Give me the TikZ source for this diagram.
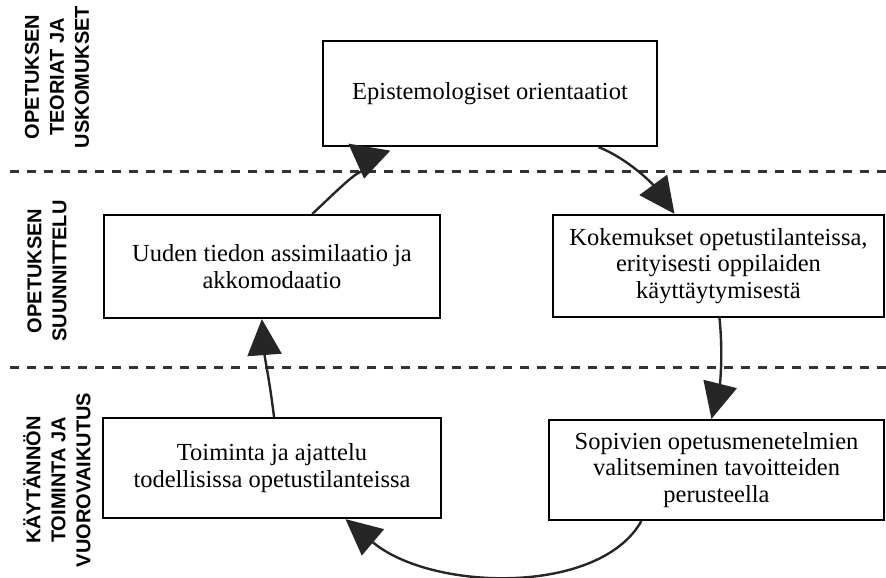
\documentclass[tikz,border=0pt]{standalone}
\usepackage{fontspec}
\setmainfont{Liberation Serif}
\newfontfamily\bandfont{Liberation Sans}
\usetikzlibrary{arrows.meta,calc}

\begin{document}
\begin{tikzpicture}[x=1pt,y=-1pt,
  box/.style={draw=black,line width=2.2pt,rectangle,align=center,inner sep=0pt,
    font=\fontsize{24.5}{26.5}\selectfont},
  flow/.style={draw=black!85,line width=2.4pt,
    -{Triangle[length=36pt,width=34pt]}},
  backflow/.style={draw=black!85,line width=2.4pt,
    -{Triangle[reversed,length=32pt,width=42pt]}},
  band/.style={rotate=90,align=center,inner sep=0pt,
    font=\bandfont\bfseries\fontsize{20}{25}\selectfont},
  divider/.style={draw=black!80,line width=3pt,dash pattern=on 9pt off 8pt}
]
\useasboundingbox (0,0) rectangle (886,578);

% level separators
\draw[divider] (10,171) -- (886,171);
\draw[divider] (10,367) -- (886,367);

% level titles
\node[band] (lvlA) at (57,77) {OPETUKSEN\\TEORIAT JA\\USKOMUKSET};
\node[band] (lvlB) at (47,271) {OPETUKSEN\\SUUNNITTELU};
\node[band] (lvlC) at (57,480) {KÄYTÄNNÖN\\TOIMINTA JA\\VUOROVAIKUTUS};

% cycle steps
\node[box,minimum width=334pt,minimum height=105pt] (epi) at (490,93.5)
  {Epistemologiset orientaatiot};
\node[box,minimum width=331pt,minimum height=102pt] (kok) at (718.5,266)
  {Kokemukset opetustilanteissa,\\erityisesti oppilaiden\\käyttäytymisestä};
\node[box,minimum width=335pt,minimum height=100pt] (sop) at (716.5,470)
  {Sopivien opetusmenetelmien\\valitseminen tavoitteiden\\perusteella};
\node[box,minimum width=338pt,minimum height=100pt] (toi) at (272,468)
  {Toiminta ja ajattelu\\todellisissa opetustilanteissa};
\node[box,minimum width=336pt,minimum height=103pt] (uud) at (272,266.5)
  {Uuden tiedon assimilaatio ja\\akkomodaatio};

% connectors around the cycle
\draw[flow] ($(epi.south west)!0.823!(epi.south east)$)
  .. controls +(30,12) and +(-22,-30) .. ($(kok.north west)!0.368!(kok.north east)$);
\draw[flow] ($(kok.south west)!0.503!(kok.south east)$)
  .. controls +(4,40) and +(8,-32) .. ($(sop.north west)!0.485!(sop.north east)$);
\draw[flow] ($(sop.south west)!0.277!(sop.south east)$)
  .. controls +(-42,75) and +(85,72) .. ($(toi.south west)!0.716!(toi.south east)$);
\draw[flow] ($(toi.north west)!0.506!(toi.north east)$)
  .. controls +(-5,-40) and +(3,40) .. ($(uud.south west)!0.47!(uud.south east)$);
\draw[backflow] ($(uud.north west)!0.619!(uud.north east)$)
  .. controls +(24,-22) and +(-2,12) .. ($(epi.south west)!0.141!(epi.south east)$);
\end{tikzpicture}
\end{document}
